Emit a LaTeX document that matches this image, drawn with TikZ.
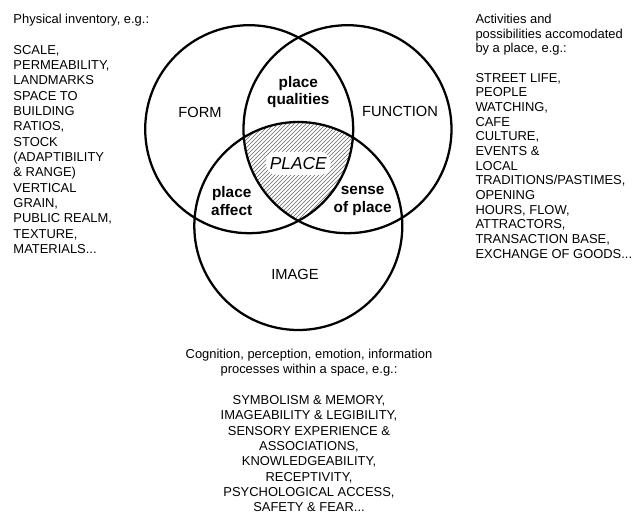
\documentclass[tikz,border=0pt]{standalone}
\usepackage{fontspec}
\setmainfont{Liberation Sans}
\usetikzlibrary{patterns}

\tikzset{every picture/.style={line width=0.75pt}}
\tikzset{
  ring/.style={line width=1.7pt},
  setlabel/.style={inner sep=0.75pt, font=\fontsize{11}{13}\selectfont},
  zonelabel/.style={inner sep=0.75pt, align=center, font=\fontsize{11.5}{13}\selectfont\bfseries},
  coretext/.style={fill=white, rounded corners=8pt, inner xsep=3pt, inner ysep=4pt, font=\fontsize{13}{15}\selectfont\itshape},
  notetext/.style={inner sep=0pt, font=\fontsize{9.7}{11.5}\selectfont}
}

\begin{document}
\begin{tikzpicture}[x=0.75pt,y=0.75pt,yscale=-1,xscale=1]
\useasboundingbox (0,0) rectangle (644,514);

%Circle centres
\coordinate (cform) at (249.2,129.2);
\coordinate (cfunc) at (347.5,129.2);
\coordinate (cimage) at (298.3,226);

%Hatch: common part of the three circles
\begin{scope}
\clip (cform) circle (104);
\clip (cfunc) circle (104);
\fill [pattern=north east lines, pattern color=black!60] (cimage) circle (104);
\end{scope}

%Shape: Circle [FORM]
\draw [ring] (cform) circle (104);
%Shape: Circle [FUNCTION]
\draw [ring] (cfunc) circle (104);
%Shape: Circle [IMAGE]
\draw [ring] (cimage) circle (104);

% Text Node
\draw (200,112.7) node (form) [setlabel] {FORM};
% Text Node
\draw (400,111.7) node (function) [setlabel] {FUNCTION};
% Text Node
\draw (295,274) node (image) [setlabel] {IMAGE};
% Text Node
\draw (298.3,92) node (qualities) [zonelabel] {place\\qualities};
% Text Node
\draw (231.7,201) node (affect) [zonelabel] {place\\affect};
% Text Node
\draw (362.7,201) node (sense) [zonelabel] {sense\\of place};
% Text Node
\draw (298.3,163.3) node (place) [coretext] {PLACE};

% Text Node
\draw (13,13.5) node (formnote) [notetext, anchor=north west, align=left] {Physical inventory, e.g.:\\[11.5pt]
SCALE,\\ PERMEABILITY,\\ LANDMARKS\\ SPACE TO\\ BUILDING\\ RATIOS,\\ STOCK\\ (ADAPTIBILITY\\ \& RANGE)\\ VERTICAL\\ GRAIN,\\ PUBLIC REALM,\\ TEXTURE,\\ MATERIALS...};
% Text Node
\draw (475,13.5) node (funcnote) [notetext, anchor=north west, align=left, font=\fontsize{9.7}{11}\selectfont] {Activities and\\ possibilities accomodated\\ by a place, e.g.:\\[11pt]
STREET LIFE,\\ PEOPLE\\ WATCHING,\\ CAFE\\ CULTURE,\\ EVENTS \&\\ LOCAL\\ TRADITIONS/PASTIMES,\\ OPENING\\ HOURS, FLOW,\\ ATTRACTORS,\\ TRANSACTION BASE,\\ EXCHANGE OF GOODS...};
% Text Node
\draw (309,348.5) node (imagenote) [notetext, anchor=north, align=center] {Cognition, perception, emotion, information\\ processes within a space, e.g.:\\[11.5pt]
SYMBOLISM \& MEMORY,\\ IMAGEABILITY \& LEGIBILITY,\\ SENSORY EXPERIENCE \&\\ ASSOCIATIONS,\\ KNOWLEDGEABILITY,\\ RECEPTIVITY,\\ PSYCHOLOGICAL ACCESS,\\ SAFETY \& FEAR...};

\end{tikzpicture}
\end{document}
